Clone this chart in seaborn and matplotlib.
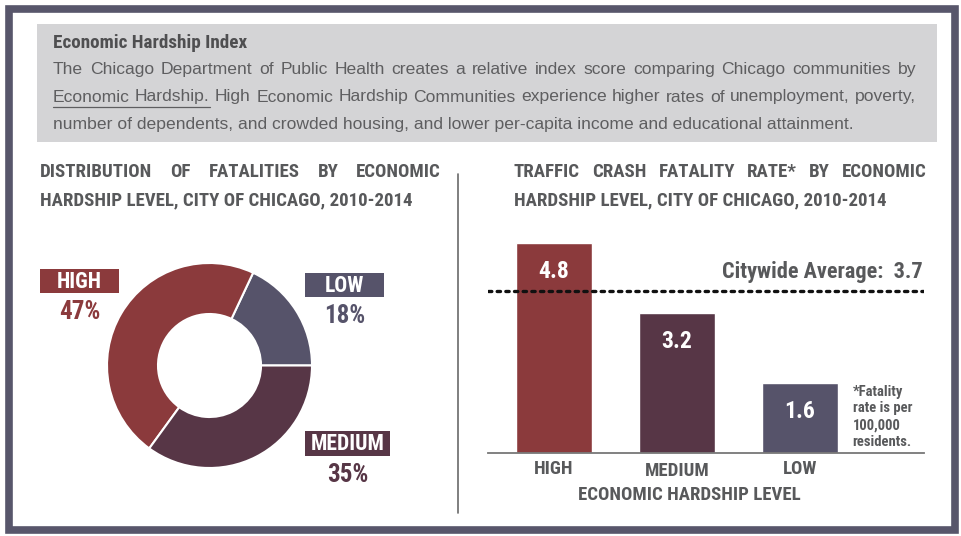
import matplotlib
matplotlib.use("Agg")
import matplotlib.pyplot as plt
import seaborn as sns
import pandas as pd
from matplotlib import font_manager
from matplotlib.patches import Rectangle

# data
levels = ["HIGH", "MEDIUM", "LOW"]
rates = [4.8, 3.2, 1.6]
citywide_avg = 3.7
pie_levels = ["LOW", "HIGH", "MEDIUM"]
pie_shares = [18, 47, 35]
colors = {"HIGH": "#8b3a3c", "MEDIUM": "#573646", "LOW": "#56536a"}

intro_title = "Economic Hardship Index"
intro_lines = [
    "The Chicago Department of Public Health creates a relative index score comparing Chicago communities by",
    "Economic Hardship. High Economic Hardship Communities experience higher rates of unemployment, poverty,",
    "number of dependents, and crowded housing, and lower per-capita income and educational attainment.",
]
left_title = ["DISTRIBUTION OF FATALITIES BY ECONOMIC",
              "HARDSHIP LEVEL, CITY OF CHICAGO, 2010-2014"]
right_title = ["TRAFFIC CRASH FATALITY RATE* BY ECONOMIC",
               "HARDSHIP LEVEL, CITY OF CHICAGO, 2010-2014"]
footnote = "*Fatality\nrate is per\n100,000\nresidents."

sns.set_theme(style="white")


def pick(names):
    for n in names:
        try:
            font_manager.findfont(n, fallback_to_default=False)
            return n
        except ValueError:
            pass
    return "DejaVu Sans"


NARROW = pick(["Liberation Sans Narrow", "Roboto Condensed", "Liberation Sans"])
BODY = pick(["Liberation Sans", "Roboto", "DejaVu Sans"])
plt.rcParams["font.family"] = [NARROW, "DejaVu Sans"]

W, H = 961, 536
fig = plt.figure(figsize=(W / 100, H / 100), dpi=100)
fig.patch.set_facecolor("white")
renderer = fig.canvas.get_renderer()
TXT = "#58595b"


def fx(x):
    return x / W


def fy(y):
    return 1 - y / H


def fit_size(s, width, **kw):
    t = fig.text(0, 0, s, fontsize=10, **kw)
    w = t.get_window_extent(renderer).width
    t.remove()
    return 10 * width / w


def justify(s, x0, x1, y, **kw):
    words = s.split()
    ts = [fig.text(0, fy(y), w, va="center", **kw) for w in words]
    widths = [t.get_window_extent(renderer).width for t in ts]
    gap = (x1 - x0 - sum(widths)) / (len(words) - 1)
    x = x0
    spans = []
    for t, w in zip(ts, widths):
        t.set_x(fx(x))
        spans.append((x, x + w))
        x += w + gap
    return spans


# frame
fig.patches.append(Rectangle((fx(8.5), fy(530)), (954.5 - 8.5) / W, (530 - 8.5) / H,
                             transform=fig.transFigure, fill=False, edgecolor="#58566b", lw=5.5))
# grey intro box
fig.patches.append(Rectangle((fx(37), fy(142)), fx(900), 118 / H, transform=fig.transFigure,
                             facecolor="#d4d4d6", edgecolor="none"))

fs_t = fit_size(intro_title, 194, fontweight="bold")
fig.text(fx(53), fy(43), intro_title, fontsize=fs_t, fontweight="bold", color="#4f4f51", va="center")
fs_b = fit_size(intro_lines[2], 801, family=BODY)
justify(intro_lines[0], 53, 916, 69, fontsize=fs_b, family=BODY, color="#5e5e60")
spans = justify(intro_lines[1], 53, 916, 97, fontsize=fs_b, family=BODY, color="#5e5e60")
fig.add_artist(plt.Line2D([fx(spans[0][0]), fx(spans[1][1])], [fy(106.5), fy(106.5)],
                          transform=fig.transFigure, color="#5e5e60", lw=0.9))
fig.text(fx(53), fy(125), intro_lines[2], fontsize=fs_b, family=BODY, color="#5e5e60", va="center")

# section headers
fs_h = fit_size(left_title[1], 370, fontweight="bold")
for title, x0, x1 in [(left_title, 40, 441), (right_title, 514, 927)]:
    justify(title[0], x0, x1, 172, fontsize=fs_h, fontweight="bold", color=TXT)
    fig.text(fx(x0), fy(200), title[1], fontsize=fs_h, fontweight="bold", color=TXT, va="center")

# divider
fig.add_artist(plt.Line2D([fx(458), fx(458)], [fy(174), fy(513)], transform=fig.transFigure,
                          color="#6a6a6a", lw=1.2))

# donut
cx, cy, half = 209.5, 365.5, 110
ax_p = fig.add_axes([fx(cx - half), fy(cy + half), 2 * half / W, 2 * half / H])
ax_p.pie(pie_shares, colors=[colors[l] for l in pie_levels], startangle=0, counterclock=True,
         radius=102.5 / half, wedgeprops=dict(width=51 / half, edgecolor="white", linewidth=1.5))
ax_p.set_xlim(-1, 1)
ax_p.set_ylim(-1, 1)
ax_p.set_aspect("equal")
ax_p.axis("off")

label_pos = {"HIGH": (40, 269, 79, 24), "LOW": (305, 273, 79, 24), "MEDIUM": (305, 431, 85, 25)}
for lvl, share in zip(pie_levels, pie_shares):
    x, y, w, h = label_pos[lvl]
    fig.patches.append(Rectangle((fx(x), fy(y + h)), w / W, h / H, transform=fig.transFigure,
                                 facecolor=colors[lvl], edgecolor="none"))
    fig.text(fx(x + w / 2), fy(y + h / 2 + 1), lvl, fontsize=15.5, fontweight="bold", color="white",
             ha="center", va="center")
    fig.text(fx(x + w / 2), fy(y + h + 19), f"{share}%", fontsize=18, fontweight="bold",
             color=colors[lvl], ha="center", va="center")

# bar chart
x0, x1, ybase, ytop = 488, 924, 453, 230
ax = fig.add_axes([fx(x0), fy(ybase), (x1 - x0) / W, (ybase - ytop) / H])
df = pd.DataFrame({"level": levels, "rate": rates})
sns.barplot(data=df, x="level", y="rate", hue="level", palette=colors, width=0.62,
            legend=False, ax=ax, saturation=1)
ax.set_xlim(-0.537, 3.01)
ax.set_ylim(0, 5.1)
for i, r in enumerate(rates):
    ax.text(i, r - 0.66, f"{r:.1f}", ha="center", va="center", color="white",
            fontsize=17, fontweight="bold")
ax.axhline(citywide_avg, color="#111111", ls=(0, (1, 1.6)), lw=2.4, dash_capstyle="round")
ax.text(3.0, citywide_avg + 0.44, f"Citywide Average:  {citywide_avg}", ha="right", va="center",
        fontsize=16, fontweight="bold", color=TXT)
ax.text(2.43, 0.83, footnote, ha="left", va="center", fontsize=10.5, fontweight="bold",
        color=TXT, linespacing=1.25)
for s in ["top", "right", "left"]:
    ax.spines[s].set_visible(False)
ax.spines["bottom"].set_color("#777777")
ax.spines["bottom"].set_linewidth(1.3)
ax.set_yticks([])
ax.tick_params(axis="x", length=0, labelbottom=False)
# category labels drawn by hand so they stay bold
xform = ax.get_xaxis_transform()
for i, lvl in enumerate(levels):
    ax.text(i, -(16 if lvl != "MEDIUM" else 18) / (ybase - ytop), lvl, transform=xform,
            ha="center", va="center", fontsize=13.5, fontweight="bold", color=TXT)
ax.set_xlabel("")
ax.set_ylabel("")
ax.text((689 - x0) / (x1 - x0), -(495 - ybase) / (ybase - ytop), "ECONOMIC HARDSHIP LEVEL",
        transform=ax.transAxes, ha="center", va="center", fontsize=13.5, fontweight="bold", color=TXT)
ax.patch.set_alpha(0)

fig.savefig("out.png", dpi=100, facecolor="white")
